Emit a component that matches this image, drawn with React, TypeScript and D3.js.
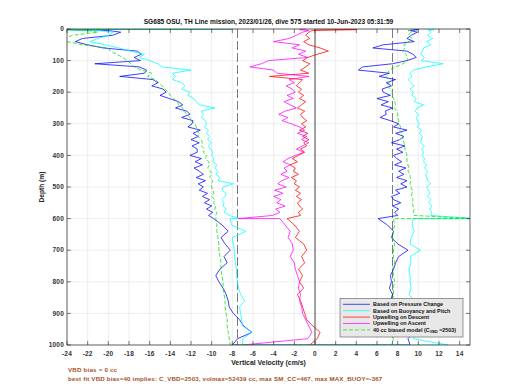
import React from 'react'
import * as d3 from 'd3'

// depth grid (m): dense sampling to 600 m, coarser below
const depthUpper = [0, 2, 5, ...d3.range(10, 601, 10)]
const depthLower = d3.range(600, 1001, 20)

const xTicks = d3.range(-24, 15, 2)
const yTicks = d3.range(0, 1001, 100)

// descent, based on pressure change
const blueDescUpper = [-8, -24, -20,
  -18.8, -19.6, -22.5, -23.2, -22, -20.5, -17.2, -16.8, -17.5, -16.9,
  -21.3, -17, -16.3, -16.5, -18.9, -15.7, -15.2, -15.8, -14.7, -14.4,
  -15, -14.1, -13.2, -12.8, -13.5, -12.4, -12.1, -12.9, -11.8, -11.9,
  -12.3, -11.1, -11.8, -11.3, -12, -11.2, -11.9, -11.4, -11.4, -12.1,
  -11, -11.6, -10.9, -11.7, -11.2, -10.8, -11.5, -10.6, -11.3, -10.8,
  -11.2, -10.4, -10.9, -10.2, -10.7, -10, -10.5, -9.9, -10.3, -9.8]
const blueDescLower = [-9.8, -9, -8.4, -9.1, -8.7, -8.2, -8.8, -8.5, -9.2, -9.6, -9.3,
  -8.9, -8.6, -8.4, -8.3, -7.9, -7.3, -6.9, -6.1, -7.5, -8]

// descent, based on buoyancy and pitch
const cyanDescUpper = [-8, -24, -21,
  -19.5, -20, -21, -21.8, -20.3, -19, -17.8, -16.5, -17, -16,
  -15.2, -14.8, -12, -13.8, -13.5, -13.8, -12.9, -12.6, -12.9, -12.1,
  -12.3, -11.7, -11.5, -11.2, -9.7, -11, -10.8, -11, -10.6, -10.5,
  -10.7, -10.3, -10.5, -10.2, -10.4, -10, -10.3, -10.1, -9.9, -10,
  -9.8, -9.9, -9.5, -9.7, -9.4, -9.6, -9.2, -9.4, -7.9, -8.9,
  -9, -8.6, -8.7, -9, -8.8, -8.9, -8.6, -8.8, -8.3, -7.3]
const cyanDescLower = [-8.2, -8.1, -6.7, -8, -7.9, -7.8, -7.8, -7.7, -7.6, -7.6, -7.5,
  -7.4, -7.2, -6.8, -7.3, -7.2, -7.1, -7, -6.1, -7, -7]

// descent, 40 cc biased model
const greenDescUpper = [-8, -24, -22,
  -21, -23.5, -24.2, -24, -22.5, -20, -19.8, -19.2, -18.6, -18.2,
  -17.8, -17.5, -16.8, -15.8, -16.2, -15.5, -15.1, -14.8, -14.5, -14.2,
  -14, -13.7, -13.3, -13.2, -12.8, -12.7, -12.4, -12.1, -12, -11.6,
  -11.5, -11.4, -11.2, -11.3, -11, -10.9, -11, -10.7, -10.8, -10.5,
  -10.6, -10.3, -10.2, -10.4, -10.1, -10, -10.2, -9.9, -10, -10,
  -9.9, -9.8, -10, -9.7, -9.8, -9.6, -9.7, -9.5, -9.6, -9.6]
const greenDescLower = [-9.6, -9.5, -9.5, -9.4, -9.3, -9.3, -9.2, -9.1, -9.1, -9.0, -8.9,
  -8.9, -8.8, -8.7, -8.7, -8.6, -8.5, -8.5, -8.4, -8.3, -8.2]

// upwelling on descent
const redUpper = [0, 4, -0.3,
  -0.6, -0.9, -0.5, -1.1, -0.6, 0.5, 1.3, 0.2, -0.7, -1.2,
  -0.5, -0.9, -1.4, -0.6, -4.4, -1.2, -1.5, -1.8, -1.3, -1.6,
  -1.1, -1.5, -0.9, -1.3, -1.7, -1.0, -1.4, -1.2, -0.8, -1.3,
  -0.9, -1.5, -0.7, -1.2, -0.6, -1.1, -0.8, -1.4, -1.0, -1.6,
  -2.2, -1.7, -2.4, -1.9, -2.1, -1.6, -2.3, -1.8, -2.0, -1.5,
  -1.9, -1.4, -1.8, -1.3, -1.7, -1.5, -1.2, -1.6, -1.4, -2.7]
const redLower = [-2.7, -2.0, -1.5, -1.9, -1.1, -0.8, -1.3, -1.0, -1.6, -1.2, -1.5,
  -1.1, -1.7, -1.4, -1.2, -1.0, -0.8, -0.2, 0.5, 0.2, -0.5]

// upwelling on ascent
const magUpper = [-0.8, -1.5, -0.6,
  -1.2, -1.8, -2.5, -4.0, -1.5, -2.2, -0.9, -1.6, -0.7, -4.5,
  -5.2, -6.3, -4.0, -3.7, -0.6, -2.5, -2.0, -2.8, -2.2, -1.9,
  -2.7, -2.1, -3.0, -2.4, -1.8, -2.9, -3.5, -2.6, -3.2, -2.3,
  -1.5, -1.0, -1.7, -0.8, -1.3, -0.6, -1.2, -1.8, -1.1, -1.9,
  -2.6, -3.1, -2.4, -3.0, -2.7, -3.3, -2.5, -3.2, -3.6, -2.8,
  -3.9, -3.1, -4.0, -3.3, -3.7, -2.9, -3.8, -3.4, -4.1, -7.4]
const magLower = [-3.4, -2.9, -2.4, -2.6, -2.2, -2.1, -2.4, -2.0, -1.9, -1.7, -1.5,
  -1.6, -1.4, -1.5, -1.3, -1.2, -0.9, -0.6, -0.3, -0.7, -7]

// ascent, based on pressure change
const blueAscUpper = [9.5, 10, 9.2,
  9.9, 9.3, 8.9, 9.6, 6.6, 5.6, 8.9, 9.5, 9.8, 8.9,
  7.5, 4.6, 4.2, 7.2, 6.2, 7.8, 6.9, 7.4, 6.5, 6.6,
  7.3, 6.0, 7.1, 6.4, 7.5, 6.8, 6.9, 6.3, 7.3, 8.1,
  7.6, 8.9, 7.8, 8.6, 8.2, 7.4, 8.7, 7.9, 8.5, 7.6,
  7.9, 8.4, 7.7, 8.8, 8.1, 8.6, 7.9, 8.9, 8.3, 8.9,
  7.8, 8.2, 7.4, 7.6, 8.3, 7.5, 8.1, 7.7, 8.0, 6.1]
const blueAscLower = [6.1, 7.0, 7.6, 7.4, 8.0, 9.0, 8.1, 7.8, 7.6, 7.3, 7.4,
  7.2, 7.5, 7.3, 7.6, 7.7, 7.9, 8.3, 9.6, 9.0, 9.2]

// ascent, based on buoyancy and pitch
const cyanAscUpper = [10.8, 11.5, 11.0,
  11.2, 10.9, 11.4, 10.8, 11.2, 10.5, 10.4, 10.2, 10.6, 10.3,
  12.4, 10.8, 9.5, 9.2, 9.4, 9.0, 9.3, 9.6, 9.2, 9.5,
  9.4, 9.8, 9.6, 10.5, 9.9, 9.7, 10.0, 9.8, 9.9, 10.1,
  9.9, 10.3, 10.1, 10.4, 10.3, 10.2, 10.6, 10.3, 10.5, 10.4,
  10.6, 10.5, 10.8, 10.6, 10.9, 10.7, 10.8, 10.9, 11.2, 10.8,
  11.0, 11.1, 10.9, 11.2, 11.0, 11.3, 11.1, 11.3, 11.2, 15.5]
const cyanAscLower = [9.5, 9.4, 9.6, 9.3, 9.2, 10.2, 9.2, 9.3, 9.1, 9.2, 9.2,
  9.3, 9.1, 9.6, 9.2, 9.3, 9.2, 9.4, 9.9, 9.5, 12.9]

// ascent, 40 cc biased model
const greenAscUpper = [9.2, 9.6, 9.0,
  9.3, 9.0, 9.4, 9.1, 8.6, 8.7, 8.5, 8.8, 8.9, 9.0,
  8.5, 7.8, 7.2, 7.0, 6.9, 7.1, 7.2, 7.0, 7.3, 7.5,
  7.4, 7.6, 7.7, 7.8, 7.7, 7.9, 8.0, 8.0, 8.1, 8.1,
  8.3, 8.2, 8.4, 8.5, 8.5, 8.6, 8.7, 8.7, 8.8, 8.9,
  8.9, 8.9, 9.0, 9.1, 9.0, 9.2, 9.2, 9.3, 9.2, 9.3,
  9.4, 9.4, 9.3, 9.5, 9.4, 9.5, 9.6, 9.5, 9.6, 15.5]
const greenAscLower = [7.6, 7.7, 7.6, 7.5, 7.7, 7.6, 7.6, 7.7, 7.5, 7.6, 7.7,
  7.6, 7.6, 7.5, 7.6, 7.7, 7.6, 7.6, 7.5, 7.6, 7.4]

const legendLabels = ['Based on Pressure Change', 'Based on Buoyancy and Pitch',
  'Upwelling on Descent', 'Upwelling on Ascent', '40 cc biased model']

const font = '"Liberation Sans", Arial, sans-serif'

type P = [number, number]
const pts = (ds: number[], vs: number[]): P[] => ds.map((d, i) => [d, vs[i]] as P)
const descent = (u: number[], l: number[]) => pts(depthUpper, u).concat(pts(depthLower, l))
const ascent = (u: number[], l: number[]) =>
  pts(depthLower, l).reverse().concat(pts(depthUpper, u).reverse())

export default function App() {
  const x = d3.scaleLinear().domain([-24, 15]).range([67, 470])
  const y = d3.scaleLinear().domain([0, 1000]).range([29, 345])
  const line = d3.line<P>().x(p => x(p[1])).y(p => y(p[0]))

  const series = [
    { color: '#0000ff', dash: undefined, d: line(descent(blueDescUpper, blueDescLower).concat(ascent(blueAscUpper, blueAscLower))) },
    { color: '#00ffff', dash: undefined, d: line(descent(cyanDescUpper, cyanDescLower).concat(ascent(cyanAscUpper, cyanAscLower))) },
    { color: '#ff0000', dash: undefined, d: line(descent(redUpper, redLower)) },
    { color: '#ff00ff', dash: undefined, d: line(descent(magUpper, magLower)) },
    { color: '#00e000', dash: '4,2', d: line(descent(greenDescUpper, greenDescLower).concat(ascent(greenAscUpper, greenAscLower))) },
  ]

  const [x0, x1] = x.range()
  const [y0, y1] = y.range()
  const axisColor = '#262626'

  return (
    <svg width={520} height={390} style={{ position: 'absolute', left: 0, top: 0, background: '#fff' }}
      fontFamily={font}>
      <defs>
        <clipPath id="plot">
          <rect x={x0} y={y0} width={x1 - x0} height={y1 - y0} />
        </clipPath>
      </defs>
      {/* grid */}
      {xTicks.map(t => (
        <line key={'gx' + t} x1={x(t)} x2={x(t)} y1={y0} y2={y1} stroke="#e3e3e3" strokeWidth={0.6} />
      ))}
      {yTicks.map(t => (
        <line key={'gy' + t} x1={x0} x2={x1} y1={y(t)} y2={y(t)} stroke="#e3e3e3" strokeWidth={0.6} />
      ))}
      {/* reference lines */}
      <line x1={x(0)} x2={x(0)} y1={y0} y2={y1} stroke="#222" strokeWidth={0.8} />
      {[-7.5, 7.5].map(v => (
        <line key={'r' + v} x1={x(v)} x2={x(v)} y1={y0} y2={y1} stroke="#444" strokeWidth={0.7} strokeDasharray="9,3" />
      ))}
      <g clipPath="url(#plot)">
        {series.map((s, i) => (
          <path key={i} d={s.d ?? ''} fill="none" stroke={s.color} strokeWidth={0.75} strokeDasharray={s.dash} />
        ))}
      </g>
      {/* frame and ticks */}
      <rect x={x0} y={y0} width={x1 - x0} height={y1 - y0} fill="none" stroke={axisColor} strokeWidth={0.7} />
      {xTicks.map(t => (
        <g key={'tx' + t}>
          <line x1={x(t)} x2={x(t)} y1={y1} y2={y1 - 4} stroke={axisColor} strokeWidth={0.6} />
          <line x1={x(t)} x2={x(t)} y1={y0} y2={y0 + 4} stroke={axisColor} strokeWidth={0.6} />
          <text x={x(t)} y={356} fontSize={6.5} fontWeight="bold" fill="#333" textAnchor="middle" letterSpacing={0.2}>{t}</text>
        </g>
      ))}
      {yTicks.map(t => (
        <g key={'ty' + t}>
          <line x1={x0} x2={x0 + 4} y1={y(t)} y2={y(t)} stroke={axisColor} strokeWidth={0.6} />
          <line x1={x1} x2={x1 - 4} y1={y(t)} y2={y(t)} stroke={axisColor} strokeWidth={0.6} />
          <text x={64} y={y(t)} dy="0.35em" fontSize={6.5} fontWeight="bold" fill="#333" textAnchor="end" letterSpacing={0.2}>{t}</text>
        </g>
      ))}
      {/* titles */}
      <text x={268.5} y={24} fontSize={6.6} fontWeight="bold" fill="#111" textAnchor="middle">
        SG685 OSU, TH Line mission, 2023/01/26, dive 575 started 10-Jun-2023 05:31:59
      </text>
      <text x={268.5} y={364.5} fontSize={6.9} fontWeight="bold" fill="#222" textAnchor="middle">
        Vertical Velocity (cm/s)
      </text>
      <text transform={`translate(44,${(y0 + y1) / 2}) rotate(-90)`} fontSize={6.6} fontWeight="bold" fill="#222" textAnchor="middle">
        Depth (m)
      </text>
      <text x={68} y={371.5} fontSize={6.2} fontWeight="bold" fill="#a5532a" letterSpacing={0.2}>VBD bias = 0 cc</text>
      <text x={68} y={380.5} fontSize={6.2} fontWeight="bold" fill="#a5532a" letterSpacing={0.15}>
        best fit VBD bias=40 implies: C_VBD=2503, volmax=52439 cc, max SM_CC=467, max MAX_BUOY=-367
      </text>
      {/* legend */}
      <rect x={340} y={298.5} width={123} height={38.5} fill="#e8e8e8" stroke="#555" strokeWidth={0.6} />
      {legendLabels.map((lab, i) => {
        const ly = 304.3 + i * 6.4
        return (
          <g key={lab}>
            <line x1={343} x2={370} y1={ly} y2={ly} stroke={series[i].color} strokeWidth={0.7} strokeDasharray={series[i].dash} />
            <text x={373} y={ly} dy="0.35em" fontSize={5.4} fontWeight="bold" fill="#111">
              {lab}
              {i === 4 && (
                <>
                  {' (C'}
                  <tspan fontSize={3.8} dy="1.2">VBD</tspan>
                  <tspan dy="-1.2">{' =2503)'}</tspan>
                </>
              )}
            </text>
          </g>
        )
      })}
    </svg>
  )
}
